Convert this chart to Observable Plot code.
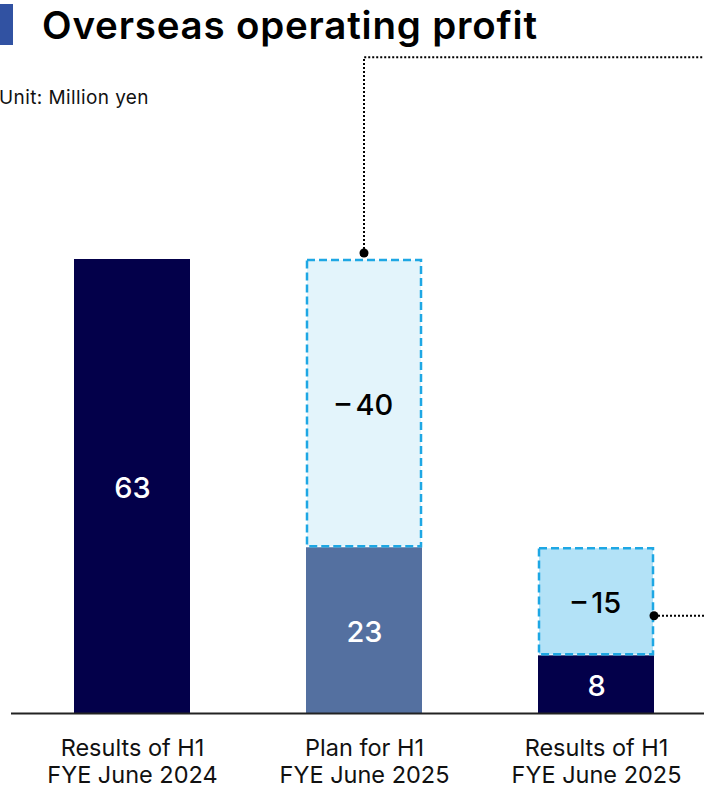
<!DOCTYPE html>
<html>
<head>
<meta charset="utf-8">
<script src="https://cdn.jsdelivr.net/npm/d3@7"></script>
<script src="https://cdn.jsdelivr.net/npm/@observablehq/plot@0.6"></script>
<style>
  html, body { margin: 0; padding: 0; background: #fff; }
  body { width: 704px; height: 789px; position: relative; overflow: hidden; font-family: Inter, "Noto Sans", sans-serif; }
  #marker { position: absolute; left: 0; top: 4px; width: 13px; height: 41px; background: #3152a2; }
  #title { position: absolute; left: 42px; top: 2px; font-size: 38.5px; line-height: 46px; font-weight: 600; letter-spacing: 0.8px; color: #000; white-space: nowrap; }
  #unit { position: absolute; left: -1px; top: 86px; font-size: 19px; line-height: 23px; letter-spacing: 0.4px; color: #111; white-space: nowrap; }
  #chart { position: absolute; left: 0; top: 0; }
</style>
</head>
<body>
<div id="chart"></div>
<div id="marker"></div>
<div id="title">Overseas operating profit</div>
<div id="unit">Unit: Million yen</div>
<script>
// ---- data ----
const categories = ["Results of H1\nFYE June 2024", "Plan for H1\nFYE June 2025", "Results of H1\nFYE June 2025"];
const actualValues = [63, 23, 8];
const gapValues = [null, -40, -15];
const actualColors = ["#03004a", "#5470a0", "#03004a"];
const gapColors = [null, "#e3f4fb", "#b3e2f7"];
const calloutTop = 91;       // level of the upper callout line (data units)
const calloutSide = 13.5;    // level of the side callout on the last bar

const actualRows = categories.map((c, i) => ({cat: c, y1: 0, y2: actualValues[i], fill: actualColors[i], label: String(actualValues[i])}));
const gapRows = categories.map((c, i) => gapValues[i] == null ? null : ({cat: c, y1: actualValues[i], y2: actualValues[i] - gapValues[i], fill: gapColors[i], label: "\u2013\u2009" + Math.abs(gapValues[i])})).filter(d => d);

function callouts(index, scales, values, dims) {
  const x = scales.x, y = scales.y, bw = x.bandwidth();
  const g = d3.create("svg:g");
  // upper callout from top of plan box
  const cx = x(categories[1]) + bw / 2;
  const top = y(gapRows[0].y2);
  g.append("path")
    .attr("d", `M${cx},${top - 6}V${y(calloutTop)}H${dims.width}`)
    .attr("fill", "none").attr("stroke", "#000").attr("stroke-width", 2).attr("stroke-dasharray", "2,2");
  g.append("circle").attr("cx", cx).attr("cy", top - 6).attr("r", 4.5).attr("fill", "#000");
  // side callout from last box
  const sx = x(categories[2]) + bw;
  const sy = y(calloutSide);
  g.append("path")
    .attr("d", `M${sx},${sy}H${dims.width}`)
    .attr("fill", "none").attr("stroke", "#000").attr("stroke-width", 2).attr("stroke-dasharray", "2,2");
  g.append("circle").attr("cx", sx).attr("cy", sy).attr("r", 4.5).attr("fill", "#000");
  return g.node();
}

const chart = Plot.plot({
  width: 704,
  height: 789,
  marginLeft: 11,
  marginRight: 0,
  marginTop: 0,
  marginBottom: 76,
  style: {fontFamily: "Inter, 'Noto Sans', sans-serif", background: "transparent"},
  x: {domain: categories, range: [16, 712], paddingInner: 0.5, paddingOuter: 0.25, align: 0.5, label: null},
  y: {domain: [0, 63], range: [713, 259], axis: null},
  marks: [
    Plot.barY(actualRows, {x: "cat", y1: "y1", y2: "y2", fill: "fill", inset: 0}),
    Plot.barY(gapRows, {x: "cat", y1: "y1", y2: "y2", fill: "fill", stroke: "#1ea7e4", strokeWidth: 2.5, strokeDasharray: "8,4", inset: 1}),
    Plot.text(actualRows, {x: "cat", y: d => (d.y1 + d.y2) / 2, text: "label", fill: "#fff", fontSize: 29, fontWeight: 500, dy: 2}),
    Plot.text(gapRows, {x: "cat", y: d => (d.y1 + d.y2) / 2, text: "label", fill: "#000", fontSize: 29, fontWeight: 500, dy: 2}),
    Plot.ruleY([0], {stroke: "#222", strokeWidth: 2}),
    Plot.axisX({tickSize: 0, tickPadding: 23, fontSize: 23.5, lineHeight: 1.16, fill: "#111", label: null}),
    callouts
  ]
});
document.getElementById("chart").appendChild(chart);
</script>
</body>
</html>
